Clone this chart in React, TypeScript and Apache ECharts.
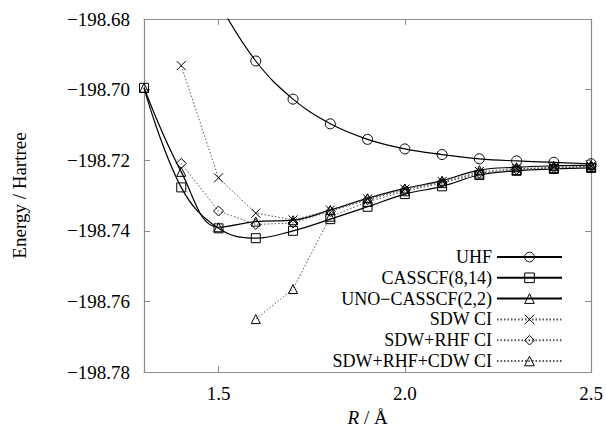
import React, { useEffect, useRef } from 'react';
import * as echarts from 'echarts';

const FONT = 'Liberation Serif';

const R_UHF = [1.5, 1.6, 1.7, 1.8, 1.9, 2.0, 2.1, 2.2, 2.3, 2.4, 2.5];
const E_UHF = [-198.6753, -198.6919, -198.7027, -198.7097, -198.7141, -198.7168, -198.7184, -198.7196, -198.7202, -198.7206, -198.7210];

const R_FULL = [1.3, 1.4, 1.5, 1.6, 1.7, 1.8, 1.9, 2.0, 2.1, 2.2, 2.3, 2.4, 2.5];
const E_CAS = [-198.6995, -198.7277, -198.7393, -198.7421, -198.7400, -198.7367, -198.7332, -198.7296, -198.7274, -198.7242, -198.7230, -198.7225, -198.7222];
const E_UNO = [-198.6995, -198.7233, -198.7390, -198.7374, -198.7370, -198.7341, -198.7308, -198.7280, -198.7258, -198.7228, -198.7220, -198.7216, -198.7214];

const R_SDW = [1.4, 1.5, 1.6, 1.7, 1.8, 1.9, 2.0, 2.1, 2.2, 2.3, 2.4, 2.5];
const E_SDW = [-198.6932, -198.7250, -198.7350, -198.7369, -198.7341, -198.7310, -198.7282, -198.7260, -198.7232, -198.7224, -198.7220, -198.7217];
const E_SDW_RHF = [-198.7209, -198.7344, -198.7382, -198.7378, -198.7345, -198.7312, -198.7284, -198.7262, -198.7236, -198.7226, -198.7221, -198.7218];

const R_CDW = [1.6, 1.7, 1.8, 1.9, 2.0, 2.1, 2.2, 2.3, 2.4, 2.5];
const E_CDW = [-198.7650, -198.7565, -198.7360, -198.7318, -198.7288, -198.7265, -198.7238, -198.7228, -198.7222, -198.7219];

const X_TICKS = [1.5, 2.0, 2.5];
const Y_MIN = -198.78;
const Y_MAX = -198.68;
const Y_STEP = 0.02;

const NAMES = ['UHF', 'CASSCF(8,14)', 'UNO\u2212CASSCF(2,2)', 'SDW CI', 'SDW+RHF CI', 'SDW+RHF+CDW CI'];

const pair = (xs: number[], ys: number[]) => xs.map((x, i) => [x, ys[i]]);

const CROSS = 'path://M0,0L10,10M0,10L10,0';

const openItem = { color: 'rgba(0,0,0,0)', borderColor: '#000', borderWidth: 1 };

export default function App() {
  const ref = useRef<HTMLDivElement>(null);
  useEffect(() => {
    const chart = echarts.init(ref.current!, undefined, { renderer: 'svg' });
    const solid = { color: '#000', width: 1.2, type: 'solid' as const };
    const dotted = { color: '#555', width: 1, type: [1.5, 2] as any };
    const axisCommon = {
      axisLine: { show: true, lineStyle: { color: '#8c8c8c', width: 1.2 } },
      splitLine: { show: false },
    };
    chart.setOption({
      animation: false,
      backgroundColor: '#fff',
      textStyle: { fontFamily: FONT },
      grid: { left: 144, top: 19, right: 13, bottom: 60 },
      legend: {
        orient: 'vertical',
        right: 38,
        top: 243,
        align: 'right',
        itemWidth: 65,
        itemHeight: 12,
        itemGap: 2.8,
        selectedMode: false,
        data: NAMES,
        itemStyle: { borderWidth: 1 },
        textStyle: { fontFamily: FONT, fontSize: 18, color: '#000', lineHeight: 18 },
      },
      xAxis: [
        {
          type: 'value', position: 'bottom', min: 1.3, max: 2.5,
          ...axisCommon,
          name: '{i|R} / Å', nameLocation: 'middle', nameGap: 34,
          nameTextStyle: {
            fontFamily: FONT, fontSize: 19, color: '#000',
            rich: { i: { fontFamily: FONT, fontSize: 19, fontStyle: 'italic', color: '#000' } },
          },
          axisTick: { show: true, inside: true, length: 6, customValues: X_TICKS, lineStyle: { color: '#8c8c8c' } },
          axisLabel: {
            customValues: X_TICKS, margin: 12, fontFamily: FONT, fontSize: 19, color: '#000',
            formatter: (v: number) => v.toFixed(1),
          },
        },
        {
          type: 'value', position: 'top', min: 1.3, max: 2.5,
          ...axisCommon,
          axisTick: { show: true, inside: true, length: 6, customValues: X_TICKS, lineStyle: { color: '#8c8c8c' } },
          axisLabel: { show: false },
        },
      ],
      yAxis: [
        {
          type: 'value', position: 'left', min: Y_MIN, max: Y_MAX, interval: Y_STEP,
          ...axisCommon,
          name: 'Energy / Hartree', nameLocation: 'middle', nameGap: 115,
          nameTextStyle: { fontFamily: FONT, fontSize: 19, color: '#000' },
          axisTick: { show: true, inside: true, length: 6, lineStyle: { color: '#8c8c8c' } },
          axisLabel: {
            margin: 14, fontFamily: FONT, fontSize: 19, color: '#000',
            formatter: (v: number) => '\u2212' + Math.abs(v).toFixed(2),
          },
        },
        {
          type: 'value', position: 'right', min: Y_MIN, max: Y_MAX, interval: Y_STEP,
          ...axisCommon,
          axisTick: { show: true, inside: true, length: 6, lineStyle: { color: '#8c8c8c' } },
          axisLabel: { show: false },
        },
      ],
      series: [
        {
          name: NAMES[0], type: 'line', data: pair(R_UHF, E_UHF), smooth: 0.4,
          symbol: 'circle', symbolSize: 10, lineStyle: solid, itemStyle: openItem, clip: true,
        },
        {
          name: NAMES[1], type: 'line', data: pair(R_FULL, E_CAS), smooth: 0.4,
          symbol: 'rect', symbolSize: 9, lineStyle: solid, itemStyle: openItem, clip: true,
        },
        {
          name: NAMES[2], type: 'line', data: pair(R_FULL, E_UNO), smooth: 0.4,
          symbol: 'triangle', symbolSize: 9, lineStyle: solid, itemStyle: openItem, clip: true,
        },
        {
          name: NAMES[3], type: 'line', data: pair(R_SDW, E_SDW),
          symbol: CROSS, symbolSize: 9, lineStyle: dotted, itemStyle: openItem, clip: true,
        },
        {
          name: NAMES[4], type: 'line', data: pair(R_SDW, E_SDW_RHF),
          symbol: 'diamond', symbolSize: 10, lineStyle: dotted, itemStyle: openItem, clip: true,
        },
        {
          name: NAMES[5], type: 'line', data: pair(R_CDW, E_CDW),
          symbol: 'triangle', symbolSize: 9, lineStyle: dotted, itemStyle: openItem, clip: true,
        },
      ],
    });
    return () => chart.dispose();
  }, []);
  return <div ref={ref} style={{ width: 606, height: 432, position: 'absolute', left: 0, top: 0 }} />;
}
